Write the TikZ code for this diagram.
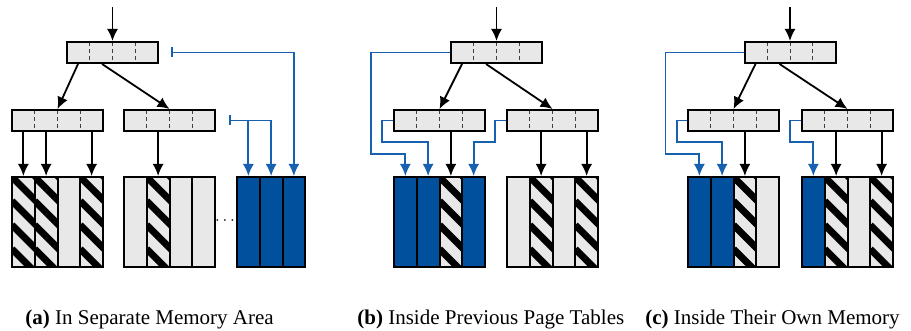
\documentclass[tikz,border=0pt]{standalone}
\usepackage{fontspec}
\setmainfont{Liberation Serif}
\usepackage{xcolor}
\usepackage{tikz}
\usetikzlibrary{arrows.meta,calc}

\definecolor{ptblue}{RGB}{0,80,158}
\definecolor{lnblue}{RGB}{24,96,176}
\definecolor{pgfill}{RGB}{232,232,232}

% one block of physical pages, #2 = left edge, #3 = kind of each page
\newcommand{\pgblock}[3]{%
    \foreach \t [count=\i] in {#3} {\node[\t] (#1-\i) at ({#2+(\i-0.5)*22.75},222) {};}%
}

\begin{document}
\begin{tikzpicture}[x=0.5pt, y=-0.5pt,
        tbl/.style={draw, line width=1pt, fill=pgfill, minimum width=45.5pt, minimum height=10.5pt, inner sep=0pt,
            path picture={\foreach \f in {0.25,0.5,0.75}
                \draw[black!75, line width=0.5pt, dash pattern=on 2pt off 1.5pt]
                    ($(path picture bounding box.north west)!\f!(path picture bounding box.north east)$) --
                    ($(path picture bounding box.south west)!\f!(path picture bounding box.south east)$);}},
        pg/.style={draw, line width=1pt, fill=pgfill, minimum width=11.375pt, minimum height=45pt, inner sep=0pt},
        freepg/.style={pg},
        usedpg/.style={pg, path picture={\foreach \k in {-1,...,4}
                \draw[line width=3.5pt] ([yshift={-\k*12pt}]path picture bounding box.north west) -- ++(13pt,-13pt);}},
        ptpg/.style={pg, fill=ptblue},
        arr/.style={-{Latex[length=6pt,width=5.5pt]}, line width=0.9pt},
        blu/.style={arr, draw=lnblue, -{Latex[length=6pt,width=5.5pt,color=lnblue]}},
        captxt/.style={anchor=base west, font=\fontsize{10.5}{12.5}\selectfont, inner sep=0pt},
    ]
    \useasboundingbox (0,0) rectangle (911,331);

    % (a) separate memory area
    \coordinate (ina) at (112.5,7);
    \node[tbl] (ra) at (112.5,52.5) {};
    \node[tbl] (la) at (57.5,120.5) {};
    \node[tbl] (lb) at (169.5,120.5) {};
    \pgblock{a1}{12}{usedpg,usedpg,freepg,usedpg}
    \pgblock{a2}{124}{freepg,usedpg,freepg,freepg}
    \pgblock{a3}{237}{ptpg,ptpg,ptpg}
    \node[inner sep=0pt, font=\footnotesize] (gapa) at (225,221) {$\cdots$};

    \draw[arr] (ina) -- (ra.north);
    \draw[arr] ([xshift=-17.25pt]ra.south) -- (la.north);
    \draw[arr] ([xshift=-5.25pt]ra.south) -- (lb.north);
    \foreach \c in {a1-1,a1-2,a1-4} \draw[arr] (\c.north |- la.south) -- (\c.north);
    \draw[arr] (a2-2.north |- lb.south) -- (a2-2.north);
    \draw[blu, {Bar[width=5pt]}-{Latex[length=6pt,width=5.5pt]}] ([xshift=6pt]ra.east) -| (a3-3.north);
    \draw[blu, {Bar[width=5pt]}-{Latex[length=6pt,width=5.5pt]}] ([xshift=6.5pt]lb.east) -| (a3-2.north);
    \draw[blu] (a3-1.north |- lb.east) -- (a3-1.north);

    % (b) inside previous page tables
    \coordinate (inb) at (496.5,7);
    \node[tbl] (rb) at (496.5,52.5) {};
    \node[tbl] (lc) at (439.5,120.5) {};
    \node[tbl] (ld) at (552.5,120.5) {};
    \pgblock{b1}{394}{ptpg,ptpg,usedpg,ptpg}
    \pgblock{b2}{507}{freepg,usedpg,freepg,usedpg}

    \draw[arr] (inb) -- (rb.north);
    \draw[arr] ([xshift=-17.25pt]rb.south) -- (lc.north);
    \draw[arr] ([xshift=-5.25pt]rb.south) -- (ld.north);
    \draw[arr] (b1-3.north |- lc.south) -- (b1-3.north);
    \foreach \c in {b2-2,b2-4} \draw[arr] (\c.north |- ld.south) -- (\c.north);
    \draw[blu] (rb.west) -- ++(-79,0) |- ([yshift=11pt]b1-1.north) -- (b1-1.north);
    \draw[blu] (lc.west) -- ++(-11,0) |- ([yshift=17pt]b1-2.north) -- (b1-2.north);
    \draw[blu] (ld.west) -- ++(-11,0) |- ([yshift=17pt]b1-4.north) -- (b1-4.north);

    % (c) inside their own memory
    \coordinate (inc) at (790,7);
    \node[tbl] (rc) at (790,52.5) {};
    \node[tbl] (le) at (733.5,120.5) {};
    \node[tbl] (lf) at (847.5,120.5) {};
    \pgblock{c1}{688}{ptpg,ptpg,usedpg,freepg}
    \pgblock{c2}{802}{ptpg,usedpg,freepg,usedpg}

    \draw[arr] (inc) -- (rc.north);
    \draw[arr] ([xshift=-17.25pt]rc.south) -- (le.north);
    \draw[arr] ([xshift=-5.25pt]rc.south) -- (lf.north);
    \draw[arr] (c1-3.north |- le.south) -- (c1-3.north);
    \foreach \c in {c2-2,c2-4} \draw[arr] (\c.north |- lf.south) -- (\c.north);
    \draw[blu] (rc.west) -- ++(-78,0) |- ([yshift=11pt]c1-1.north) -- (c1-1.north);
    \draw[blu] (le.west) -- ++(-10,0) |- ([yshift=17pt]c1-2.north) -- (c1-2.north);
    \draw[blu] (lf.west) -- ++(-11,0) |- ([yshift=17pt]c2-1.north) -- (c2-1.north);

    % captions
    \node[captxt] (capa) at (25,325) {\textbf{(a)} In Separate Memory Area};
    \node[captxt] (capb) at (357,325) {\textbf{(b)} Inside Previous Page Tables};
    \node[captxt] (capc) at (645,325) {\textbf{(c)} Inside Their Own Memory};
\end{tikzpicture}
\end{document}
